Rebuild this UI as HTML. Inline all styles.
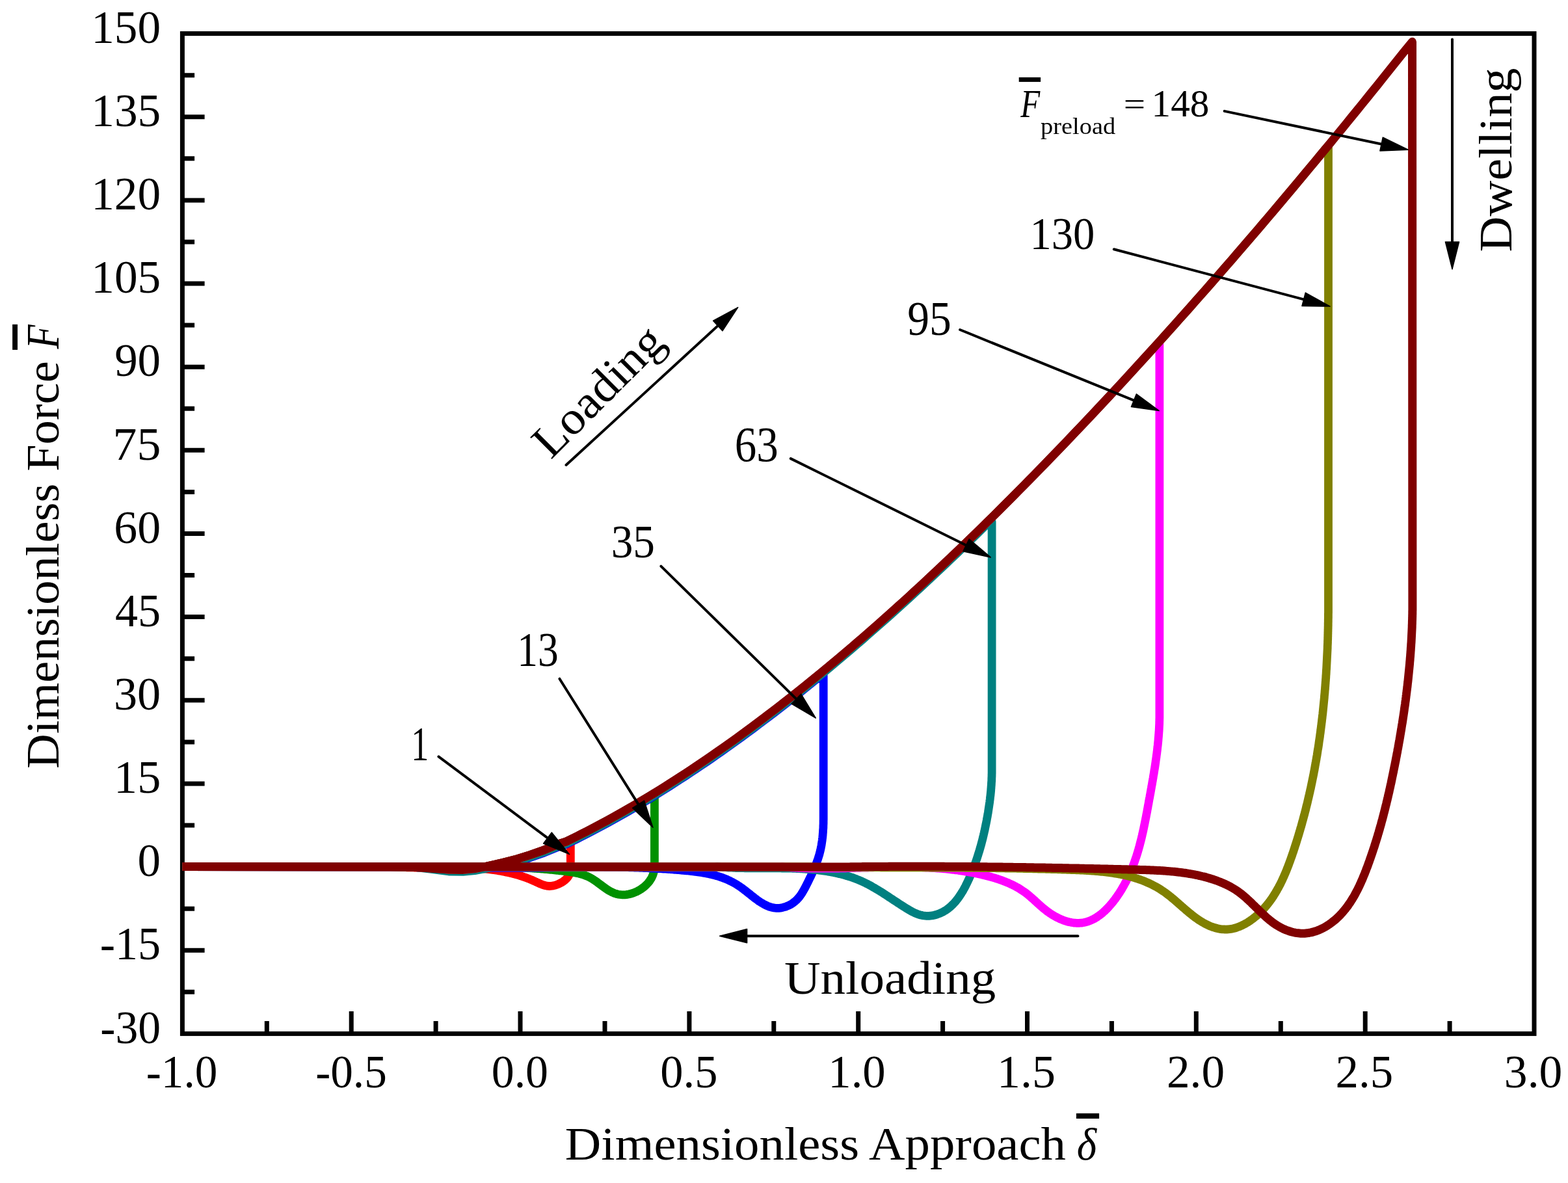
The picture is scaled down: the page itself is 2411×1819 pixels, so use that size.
<!DOCTYPE html>
<html><head><meta charset="utf-8"><title>Dimensionless Force vs Approach</title>
<style>html,body{margin:0;padding:0;background:#fff;}svg{display:block;}</style></head>
<body>
<svg xmlns="http://www.w3.org/2000/svg" width="2411" height="1819" viewBox="0 0 2411 1819">
<rect width="2411" height="1819" fill="#fff"/>
<rect x="280.4" y="51.6" width="2078.6" height="1537.8" fill="none" stroke="#000" stroke-width="7"/>
<path d="M410.3,1589.4 V1569.9 M540.2,1589.4 V1555 M670.1,1589.4 V1569.9 M800,1589.4 V1555 M930,1589.4 V1569.9 M1059.9,1589.4 V1555 M1189.8,1589.4 V1569.9 M1319.7,1589.4 V1555 M1449.6,1589.4 V1569.9 M1579.5,1589.4 V1555 M1709.4,1589.4 V1569.9 M1839.3,1589.4 V1555 M1969.3,1589.4 V1569.9 M2099.2,1589.4 V1555 M2229.1,1589.4 V1569.9 M280.4,1525.3 H299.1 M280.4,1461.2 H314.6 M280.4,1397.2 H299.1 M280.4,1333.1 H314.6 M280.4,1269 H299.1 M280.4,1205 H314.6 M280.4,1140.9 H299.1 M280.4,1076.8 H314.6 M280.4,1012.7 H299.1 M280.4,948.6 H314.6 M280.4,884.6 H299.1 M280.4,820.5 H314.6 M280.4,756.4 H299.1 M280.4,692.3 H314.6 M280.4,628.3 H299.1 M280.4,564.2 H314.6 M280.4,500.1 H299.1 M280.4,436 H314.6 M280.4,372 H299.1 M280.4,307.9 H314.6 M280.4,243.8 H299.1 M280.4,179.8 H314.6 M280.4,115.7 H299.1" stroke="#000" stroke-width="7" fill="none"/>
<g fill="none" stroke-linejoin="round" stroke-linecap="butt">
<path d="M280.4,1332.6 L600,1332.9 L640,1333.6 L665,1335.2 L690,1337 L712,1337.4 L730,1335.6 L747,1332.4 L770,1327.2 L793.6,1321.3 L815,1314.6 L836.7,1307 L858.8,1297.8 L870,1294.3 L877.3,1294.3 L877.3,1306 L877.3,1308 L877.3,1310 L877.3,1312 L877.3,1314.1 L877.3,1316.1 L877.3,1318.1 L877.3,1320.1 L877.3,1322.1 L877.3,1324.1 L877.3,1326.1 L877.3,1328.2 L877.3,1330.2 L877.3,1332.2 L877.3,1334.2 L877.2,1336.2 L877.1,1338.1 L876.8,1340.1 L876.4,1342 L875.8,1343.8 L875,1345.6 L874,1347.3 L872.9,1348.9 L871.6,1350.5 L870.1,1352 L868.5,1353.4 L866.8,1354.7 L865,1356 L863.1,1357.1 L861.1,1358.2 L859.1,1359.1 L857.1,1360 L855,1360.7 L852.9,1361.4 L850.9,1361.9 L848.8,1362.2 L846.8,1362.4 L844.8,1362.5 L842.8,1362.4 L840.9,1362.1 L839,1361.8 L837.1,1361.3 L835.2,1360.7 L833.3,1360 L831.5,1359.3 L829.6,1358.5 L827.8,1357.7 L826,1356.8 L824.1,1356 L822.3,1355.1 L820.5,1354.3 L818.6,1353.5 L816.8,1352.7 L814.9,1352 L813.1,1351.2 L811.2,1350.5 L809.3,1349.8 L807.4,1349.1 L805.6,1348.5 L803.7,1347.8 L801.8,1347.2 L799.9,1346.6 L798,1346 L796.1,1345.4 L794.2,1344.9 L792.2,1344.3 L790.3,1343.8 L788.4,1343.3 L786.5,1342.8 L784.5,1342.4 L782.6,1341.9 L780.7,1341.5 L778.7,1341.1 L776.8,1340.7 L774.8,1340.3 L772.9,1339.9 L770.9,1339.5 L768.9,1339.2 L767,1338.9 L765,1338.5 L763,1338.2 L761.1,1337.9 L759.1,1337.7 L757.1,1337.4 L755.1,1337.1 L753.1,1336.9 L751.1,1336.7 L749.1,1336.5 L747.1,1336.2 L745.1,1336 L743.1,1335.9 L741.1,1335.7 L739.1,1335.5 L737.1,1335.4 L735.1,1335.2 L733.1,1335.1 L731.1,1334.9 L729.1,1334.8 L727.1,1334.7 L725,1334.6 L723,1334.5 L721,1334.4 L719,1334.3 L716.9,1334.3 L714.9,1334.2 L712.9,1334.1 L710.9,1334.1 L708.8,1334 L706.8,1334 L704.8,1334 L702.7,1333.9 L700.7,1333.9 L698.7,1333.9 L696.6,1333.9 L694.6,1333.8 L692.6,1333.8 L690.5,1333.8 L688.5,1333.8 L686.5,1333.8 L684.4,1333.8 L682.4,1333.8 L680.4,1333.8 L678.3,1333.8 L676.3,1333.9 L674.3,1333.9 L672.2,1333.9 L670.2,1333.9 L668.2,1333.9 L666.1,1333.9 L664.1,1333.9 L662.1,1333.9 L660.1,1333.9 L658,1334 L656,1334 L654,1334 L652,1334 L649.9,1334 L647.9,1334 L645.9,1334 L643.9,1334 L641.9,1334 L639.9,1334 L637.8,1334 L635.8,1333.9 L633.8,1333.9 L631.8,1333.9 L629.8,1333.9 L627.8,1333.8 L625.8,1333.8 L623.8,1333.7 L621.8,1333.7 L619.9,1333.6 L617.9,1333.6 L615.9,1333.5 L613.9,1333.4 L611.9,1333.3 L610,1333.2 L608,1333.1 L606,1333 L604.1,1332.9 L602.1,1332.8 L600,1332.9 L280.4,1332.9" stroke="#FF0000" stroke-width="12.8"/>
<path d="M280.4,1332.6 L600,1332.9 L640,1333.6 L665,1335.2 L690,1337 L712,1337.4 L730,1335.6 L747,1332.4 L770,1327.2 L793.6,1321.3 L815,1314.6 L836.7,1307 L858.8,1297.8 L870,1294.3 L878,1290.4 L886,1286.5 L894,1282.4 L902,1278.4 L910,1274.2 L918,1270 L926,1265.7 L934,1261.4 L942,1257 L950,1252.5 L958,1248 L966,1243.4 L974,1238.8 L982,1234 L990,1229.3 L998,1224.5 L1006,1219.6 L1006.4,1222.8 L1006.4,1302 L1006.4,1304 L1006.4,1306 L1006.4,1308 L1006.4,1310 L1006.4,1312.1 L1006.4,1314.1 L1006.4,1316.1 L1006.4,1318.1 L1006.4,1320.1 L1006.4,1322.1 L1006.4,1324.1 L1006.4,1326.1 L1006.4,1328.2 L1006.4,1330.2 L1006.3,1332.2 L1006.2,1334.1 L1006,1336.1 L1005.7,1338.1 L1005.4,1340 L1005,1341.9 L1004.4,1343.8 L1003.8,1345.6 L1003,1347.4 L1002.2,1349.2 L1001.2,1350.9 L1000.2,1352.6 L999.1,1354.3 L997.9,1355.9 L996.6,1357.5 L995.2,1359 L993.8,1360.5 L992.3,1361.9 L990.8,1363.3 L989.2,1364.6 L987.5,1365.8 L985.8,1367 L984,1368.1 L982.2,1369.2 L980.4,1370.2 L978.5,1371.1 L976.6,1371.9 L974.7,1372.7 L972.7,1373.4 L970.7,1374 L968.8,1374.5 L966.8,1375 L964.8,1375.3 L962.8,1375.6 L960.8,1375.8 L958.8,1375.8 L956.8,1375.8 L954.8,1375.7 L952.8,1375.5 L950.9,1375.2 L949,1374.8 L947.1,1374.3 L945.3,1373.7 L943.5,1373 L941.7,1372.2 L939.9,1371.3 L938.1,1370.4 L936.4,1369.3 L934.6,1368.3 L932.9,1367.2 L931.2,1366 L929.5,1364.8 L927.9,1363.6 L926.2,1362.4 L924.5,1361.1 L922.8,1359.9 L921.1,1358.6 L919.4,1357.3 L917.8,1356.1 L916.1,1354.9 L914.3,1353.7 L912.6,1352.6 L910.9,1351.5 L909.1,1350.4 L907.3,1349.5 L905.5,1348.5 L903.7,1347.7 L901.9,1346.9 L900,1346.2 L898.1,1345.5 L896.3,1344.8 L894.3,1344.3 L892.4,1343.7 L890.5,1343.2 L888.5,1342.8 L886.6,1342.4 L884.6,1342 L882.6,1341.6 L880.7,1341.3 L878.7,1341 L876.7,1340.7 L874.7,1340.4 L872.7,1340.2 L870.7,1339.9 L868.7,1339.7 L866.7,1339.4 L864.6,1339.2 L862.6,1339 L860.6,1338.8 L858.6,1338.5 L856.6,1338.3 L854.6,1338.1 L852.6,1337.9 L850.6,1337.7 L848.6,1337.5 L846.6,1337.3 L844.6,1337.1 L842.6,1336.9 L840.6,1336.7 L838.6,1336.6 L836.6,1336.4 L834.6,1336.2 L832.6,1336 L830.6,1335.9 L828.6,1335.7 L826.6,1335.6 L824.6,1335.4 L822.6,1335.3 L820.6,1335.1 L818.6,1335 L816.5,1334.8 L814.5,1334.7 L812.5,1334.6 L810.5,1334.5 L808.5,1334.3 L806.5,1334.2 L804.5,1334.1 L802.5,1334 L800.5,1333.9 L798.5,1333.8 L796.5,1333.7 L794.5,1333.6 L792.5,1333.5 L790.5,1333.4 L788.5,1333.3 L786.5,1333.2 L784.5,1333.2 L782.5,1333.1 L780.5,1333 L778.5,1332.9 L776.4,1332.9 L774.4,1332.8 L772.4,1332.8 L770.4,1332.7 L768.4,1332.7 L766.4,1332.6 L764.4,1332.6 L762.4,1332.5 L760.4,1332.5 L758.4,1332.5 L756.4,1332.4 L754.4,1332.4 L752.4,1332.4 L750.3,1332.4 L748.3,1332.4 L746.3,1332.3 L744.3,1332.3 L742.3,1332.3 L740.3,1332.3 L738.3,1332.3 L736.3,1332.3 L734.3,1332.3 L732.2,1332.3 L730.2,1332.4 L728.2,1332.4 L726.2,1332.4 L724.2,1332.4 L722.2,1332.4 L720.2,1332.5 L718.2,1332.5 L716.1,1332.5 L714.1,1332.6 L712.1,1332.6 L710.1,1332.7 L708.1,1332.7 L706.1,1332.8 L704,1332.8 L702,1332.9 L700,1332.9 L280.4,1332.9" stroke="#009100" stroke-width="12.8"/>
<path d="M280.4,1332.6 L600,1332.9 L640,1333.6 L665,1335.2 L690,1337 L712,1337.4 L730,1335.6 L747,1333 L770,1329.7 L793.6,1325.5 L815,1318.8 L836.7,1311.2 L858.8,1302 L870,1298.5 L878,1294.6 L886,1290.7 L894,1286.6 L902,1282.6 L910,1278.4 L918,1274.2 L926,1269.9 L934,1265.6 L942,1261.2 L950,1256.7 L958,1252.2 L966,1247.6 L974,1243 L982,1238.2 L990,1233.5 L998,1228.7 L1006,1223.8 L1014,1218.9 L1022,1213.9 L1030,1208.8 L1038,1203.7 L1046,1198.5 L1054,1193.3 L1062,1188 L1070,1182.7 L1078,1177.3 L1086,1171.9 L1094,1166.4 L1102,1160.8 L1110,1155.2 L1118,1149.6 L1126,1143.9 L1134,1138.1 L1142,1132.3 L1150,1126.4 L1158,1120.5 L1166,1114.5 L1174,1108.5 L1182,1102.4 L1190,1096.3 L1198,1090.2 L1206,1083.9 L1214,1077.7 L1222,1071.4 L1230,1065 L1238,1058.6 L1246,1052.1 L1254,1045.6 L1262,1039.1 L1266.2,1039.1 L1266.2,1232 L1266.2,1234 L1266.2,1236 L1266.2,1238 L1266.2,1240 L1266.2,1242 L1266.2,1244.1 L1266.2,1246.1 L1266.2,1248.1 L1266.2,1250.1 L1266.2,1252.1 L1266.2,1254.1 L1266.2,1256.1 L1266.2,1258.1 L1266.2,1260.1 L1266.1,1262.1 L1266.1,1264.2 L1266.1,1266.2 L1266,1268.2 L1265.9,1270.2 L1265.9,1272.2 L1265.8,1274.2 L1265.6,1276.2 L1265.5,1278.2 L1265.4,1280.2 L1265.2,1282.2 L1265.1,1284.1 L1264.9,1286.1 L1264.7,1288.1 L1264.4,1290.1 L1264.2,1292.1 L1263.9,1294.1 L1263.6,1296 L1263.3,1298 L1263,1300 L1262.6,1301.9 L1262.2,1303.9 L1261.8,1305.9 L1261.4,1307.8 L1260.9,1309.8 L1260.4,1311.7 L1259.9,1313.7 L1259.3,1315.6 L1258.7,1317.5 L1258.1,1319.5 L1257.5,1321.4 L1256.8,1323.3 L1256.1,1325.2 L1255.4,1327.1 L1254.7,1329 L1253.9,1330.9 L1253.1,1332.8 L1252.3,1334.7 L1251.5,1336.6 L1250.7,1338.5 L1249.9,1340.4 L1249,1342.3 L1248.2,1344.1 L1247.3,1346 L1246.4,1347.9 L1245.5,1349.7 L1244.6,1351.6 L1243.7,1353.4 L1242.8,1355.3 L1241.9,1357.1 L1240.9,1359 L1240,1360.8 L1239.1,1362.6 L1238.1,1364.5 L1237.2,1366.3 L1236.2,1368 L1235.2,1369.8 L1234.2,1371.5 L1233.1,1373.3 L1232.1,1374.9 L1230.9,1376.6 L1229.8,1378.2 L1228.5,1379.7 L1227.3,1381.2 L1225.9,1382.7 L1224.5,1384.1 L1223.1,1385.4 L1221.5,1386.7 L1219.9,1387.9 L1218.3,1389.1 L1216.5,1390.2 L1214.8,1391.2 L1213,1392.1 L1211.1,1392.9 L1209.2,1393.7 L1207.3,1394.4 L1205.4,1394.9 L1203.4,1395.4 L1201.5,1395.8 L1199.5,1396.1 L1197.6,1396.3 L1195.7,1396.4 L1193.8,1396.3 L1191.9,1396.2 L1190.1,1396 L1188.3,1395.6 L1186.4,1395.2 L1184.6,1394.7 L1182.9,1394.1 L1181.1,1393.5 L1179.3,1392.7 L1177.6,1391.9 L1175.9,1391 L1174.1,1390.1 L1172.4,1389.1 L1170.7,1388.1 L1169,1387 L1167.3,1385.9 L1165.6,1384.7 L1164,1383.5 L1162.3,1382.2 L1160.6,1381 L1159,1379.7 L1157.3,1378.4 L1155.6,1377.1 L1154,1375.7 L1152.3,1374.4 L1150.6,1373.1 L1148.9,1371.7 L1147.3,1370.4 L1145.6,1369.1 L1143.9,1367.8 L1142.2,1366.5 L1140.5,1365.3 L1138.8,1364 L1137.1,1362.9 L1135.3,1361.7 L1133.6,1360.6 L1131.9,1359.5 L1130.1,1358.5 L1128.3,1357.5 L1126.5,1356.5 L1124.7,1355.6 L1122.9,1354.7 L1121.1,1353.8 L1119.3,1353 L1117.5,1352.2 L1115.6,1351.4 L1113.8,1350.7 L1111.9,1350 L1110.1,1349.3 L1108.2,1348.7 L1106.3,1348 L1104.4,1347.4 L1102.5,1346.9 L1100.6,1346.3 L1098.7,1345.8 L1096.8,1345.3 L1094.9,1344.9 L1093,1344.4 L1091,1344 L1089.1,1343.6 L1087.2,1343.2 L1085.2,1342.8 L1083.3,1342.4 L1081.3,1342.1 L1079.4,1341.8 L1077.4,1341.5 L1075.4,1341.2 L1073.5,1340.9 L1071.5,1340.6 L1069.5,1340.4 L1067.6,1340.1 L1065.6,1339.9 L1063.6,1339.7 L1061.6,1339.4 L1059.6,1339.2 L1057.6,1339 L1055.7,1338.8 L1053.7,1338.6 L1051.7,1338.5 L1049.7,1338.3 L1047.7,1338.1 L1045.7,1337.9 L1043.7,1337.7 L1041.7,1337.6 L1039.7,1337.4 L1037.7,1337.3 L1035.7,1337.1 L1033.8,1336.9 L1031.8,1336.8 L1029.8,1336.7 L1027.8,1336.5 L1025.8,1336.4 L1023.8,1336.2 L1021.8,1336.1 L1019.8,1336 L1017.8,1335.9 L1015.8,1335.7 L1013.8,1335.6 L1011.8,1335.5 L1009.8,1335.4 L1007.8,1335.3 L1005.8,1335.2 L1003.8,1335.1 L1001.8,1335 L999.8,1334.9 L997.8,1334.8 L995.8,1334.7 L993.8,1334.6 L991.8,1334.6 L989.8,1334.5 L987.8,1334.4 L985.8,1334.3 L983.8,1334.3 L981.7,1334.2 L979.7,1334.1 L977.7,1334.1 L975.7,1334 L973.7,1333.9 L971.7,1333.9 L969.7,1333.8 L967.7,1333.8 L965.7,1333.7 L963.7,1333.7 L961.7,1333.6 L959.7,1333.6 L957.6,1333.6 L955.6,1333.5 L953.6,1333.5 L951.6,1333.5 L949.6,1333.4 L947.6,1333.4 L945.6,1333.4 L943.6,1333.4 L941.6,1333.3 L939.5,1333.3 L937.5,1333.3 L935.5,1333.3 L933.5,1333.3 L931.5,1333.3 L929.5,1333.3 L927.5,1333.2 L925.5,1333.2 L923.4,1333.2 L921.4,1333.2 L919.4,1333.2 L917.4,1333.2 L915.4,1333.2 L913.4,1333.2 L911.3,1333.2 L909.3,1333.2 L907.3,1333.2 L905.3,1333.2 L903.3,1333.3 L901.3,1333.3 L899.3,1333.3 L897.2,1333.3 L895.2,1333.3 L893.2,1333.3 L891.2,1333.3 L889.2,1333.3 L887.2,1333.4 L885.1,1333.4 L883.1,1333.4 L881.1,1333.4 L879.1,1333.4 L877.1,1333.5 L875.1,1333.5 L873,1333.5 L871,1333.5 L869,1333.5 L867,1333.6 L865,1333.6 L862.9,1333.6 L860.9,1333.6 L858.9,1333.7 L856.9,1333.7 L854.9,1333.7 L852.9,1333.7 L850.8,1333.8 L848.8,1333.8 L846.8,1333.8 L844.8,1333.8 L842.8,1333.9 L840.8,1333.9 L838.7,1333.9 L836.7,1333.9 L834.7,1334 L832.7,1334 L830.7,1334 L828.7,1334 L826.6,1334.1 L824.6,1334.1 L822.6,1334.1 L820.6,1334.1 L818.6,1334.2 L816.6,1334.2 L814.5,1334.2 L812.5,1334.2 L810.5,1334.2 L808.5,1334.3 L806.5,1334.3 L804.5,1334.3 L802.5,1334.3 L800.4,1334.3 L798.4,1334.3 L796.4,1334.4 L794.4,1334.4 L792.4,1334.4 L790.4,1334.4 L788.4,1334.4 L786.3,1334.4 L784.3,1334.4 L782.3,1334.4 L780.3,1334.4 L778.3,1334.4 L776.3,1334.4 L774.3,1334.4 L772.3,1334.4 L770.3,1334.4 L768.2,1334.4 L766.2,1334.4 L764.2,1334.4 L762.2,1334.4 L760.2,1334.4 L758.2,1334.4 L756.2,1334.4 L754.2,1334.4 L752.2,1334.4 L750.2,1334.3 L748.2,1334.3 L746.1,1334.3 L744.1,1334.3 L742.1,1334.2 L740.1,1334.2 L738.1,1334.2 L736.1,1334.2 L734.1,1334.1 L732.1,1334.1 L730.1,1334 L728.1,1334 L726.1,1334 L724.1,1333.9 L722.1,1333.9 L720.1,1333.8 L718.1,1333.8 L716.1,1333.7 L714.1,1333.6 L712.1,1333.6 L710.1,1333.5 L708.1,1333.5 L706.1,1333.4 L704.1,1333.3 L702.1,1333.2 L700.1,1333.2 L698.1,1333.1 L696.1,1333 L694.1,1332.9 L692.1,1332.8 L690.1,1332.7 L688.1,1332.6 L686.1,1332.5 L684.1,1332.4 L682.2,1332.3 L680,1332.9 L280.4,1332.9" stroke="#0000FF" stroke-width="12.8"/>
<path d="M280.4,1332.6 L600,1332.9 L640,1333.6 L665,1336.7 L690,1340 L712,1340.4 L730,1338.6 L747,1335.4 L770,1330.2 L793.6,1324.3 L815,1317.6 L836.7,1310 L858.8,1300.8 L870,1297.3 L878,1293.4 L886,1289.5 L894,1285.4 L902,1281.4 L910,1277.2 L918,1273 L926,1268.7 L934,1264.4 L942,1260 L950,1255.5 L958,1251 L966,1246.4 L974,1241.8 L982,1237 L990,1232.3 L998,1227.5 L1006,1222.6 L1014,1217.7 L1022,1212.7 L1030,1207.6 L1038,1202.5 L1046,1197.3 L1054,1192.1 L1062,1186.8 L1070,1181.5 L1078,1176.1 L1086,1170.7 L1094,1165.2 L1102,1159.6 L1110,1154 L1118,1148.4 L1126,1142.7 L1134,1136.9 L1142,1131.1 L1150,1125.2 L1158,1119.3 L1166,1113.3 L1174,1107.3 L1182,1101.2 L1190,1095.1 L1198,1089 L1206,1082.7 L1214,1076.5 L1222,1070.2 L1230,1063.8 L1238,1057.4 L1246,1050.9 L1254,1044.4 L1262,1037.9 L1270,1031.3 L1278,1024.6 L1286,1017.9 L1294,1011.2 L1302,1004.4 L1310,997.6 L1318,990.7 L1326,983.8 L1334,976.8 L1342,969.8 L1350,962.8 L1358,955.7 L1366,948.6 L1374,941.4 L1382,934.2 L1390,927 L1398,919.7 L1406,912.3 L1414,905 L1422,897.6 L1430,890.1 L1438,882.6 L1446,875.1 L1454,867.5 L1462,859.9 L1470,852.3 L1478,844.6 L1486,836.9 L1494,829.1 L1502,821.4 L1510,813.5 L1518,805.7 L1525.1,802.2 L1525.1,1161 L1525.1,1163 L1525.1,1165 L1525.1,1167 L1525.1,1169 L1525.1,1171.1 L1525.1,1173.1 L1525.1,1175.1 L1525.1,1177.1 L1525.1,1179.1 L1525.1,1181.1 L1525.1,1183.1 L1525.1,1185.1 L1525.1,1187.1 L1525.1,1189.1 L1525,1191.2 L1525,1193.2 L1524.9,1195.2 L1524.8,1197.2 L1524.8,1199.2 L1524.7,1201.2 L1524.5,1203.2 L1524.4,1205.3 L1524.3,1207.3 L1524.1,1209.3 L1524,1211.3 L1523.8,1213.3 L1523.7,1215.3 L1523.5,1217.4 L1523.3,1219.4 L1523.1,1221.4 L1522.9,1223.4 L1522.6,1225.4 L1522.4,1227.4 L1522.2,1229.4 L1521.9,1231.4 L1521.7,1233.4 L1521.4,1235.4 L1521.1,1237.4 L1520.8,1239.4 L1520.5,1241.4 L1520.2,1243.4 L1519.9,1245.4 L1519.6,1247.4 L1519.3,1249.4 L1518.9,1251.4 L1518.6,1253.4 L1518.3,1255.3 L1517.9,1257.3 L1517.5,1259.3 L1517.2,1261.3 L1516.8,1263.2 L1516.4,1265.2 L1516,1267.1 L1515.6,1269.1 L1515.2,1271.1 L1514.8,1273 L1514.4,1274.9 L1514,1276.9 L1513.5,1278.8 L1513.1,1280.8 L1512.6,1282.7 L1512.2,1284.6 L1511.7,1286.5 L1511.3,1288.5 L1510.8,1290.4 L1510.3,1292.3 L1509.8,1294.2 L1509.3,1296.1 L1508.8,1298 L1508.3,1300 L1507.7,1301.9 L1507.2,1303.8 L1506.6,1305.7 L1506.1,1307.6 L1505.5,1309.5 L1504.9,1311.4 L1504.3,1313.3 L1503.7,1315.2 L1503.1,1317.1 L1502.5,1319 L1501.9,1320.9 L1501.2,1322.7 L1500.6,1324.6 L1499.9,1326.5 L1499.2,1328.4 L1498.5,1330.3 L1497.8,1332.2 L1497.1,1334.1 L1496.3,1336 L1495.6,1337.9 L1494.8,1339.8 L1494.1,1341.7 L1493.3,1343.6 L1492.5,1345.5 L1491.6,1347.4 L1490.8,1349.3 L1490,1351.2 L1489.1,1353.1 L1488.2,1355 L1487.3,1356.8 L1486.4,1358.7 L1485.5,1360.6 L1484.6,1362.5 L1483.6,1364.3 L1482.6,1366.2 L1481.6,1368 L1480.6,1369.8 L1479.5,1371.6 L1478.4,1373.3 L1477.3,1375.1 L1476.2,1376.8 L1475,1378.5 L1473.9,1380.1 L1472.7,1381.8 L1471.4,1383.4 L1470.2,1385 L1468.9,1386.5 L1467.6,1388 L1466.2,1389.5 L1464.8,1390.9 L1463.4,1392.3 L1462,1393.6 L1460.5,1394.9 L1459,1396.1 L1457.4,1397.3 L1455.9,1398.5 L1454.2,1399.6 L1452.6,1400.6 L1450.9,1401.6 L1449.2,1402.5 L1447.4,1403.4 L1445.6,1404.2 L1443.8,1404.9 L1441.9,1405.6 L1440.1,1406.2 L1438.2,1406.7 L1436.3,1407.2 L1434.3,1407.6 L1432.4,1407.9 L1430.5,1408.1 L1428.5,1408.3 L1426.6,1408.3 L1424.7,1408.3 L1422.7,1408.2 L1420.8,1408 L1418.9,1407.7 L1417.1,1407.3 L1415.2,1406.9 L1413.3,1406.3 L1411.5,1405.7 L1409.6,1405 L1407.8,1404.3 L1406,1403.5 L1404.2,1402.6 L1402.4,1401.7 L1400.6,1400.8 L1398.9,1399.8 L1397.1,1398.7 L1395.3,1397.7 L1393.6,1396.6 L1391.8,1395.5 L1390.1,1394.4 L1388.4,1393.3 L1386.6,1392.2 L1384.9,1391.1 L1383.2,1390 L1381.5,1388.9 L1379.8,1387.7 L1378.1,1386.6 L1376.4,1385.5 L1374.6,1384.4 L1372.9,1383.2 L1371.2,1382.1 L1369.5,1381 L1367.8,1379.9 L1366.1,1378.7 L1364.4,1377.6 L1362.7,1376.5 L1361,1375.4 L1359.3,1374.3 L1357.6,1373.2 L1355.9,1372.1 L1354.2,1371.1 L1352.5,1370 L1350.8,1369 L1349.1,1367.9 L1347.4,1366.9 L1345.7,1365.9 L1343.9,1364.9 L1342.2,1363.9 L1340.5,1362.9 L1338.7,1361.9 L1337,1361 L1335.2,1360.1 L1333.5,1359.1 L1331.7,1358.3 L1329.9,1357.4 L1328.1,1356.5 L1326.4,1355.7 L1324.6,1354.9 L1322.8,1354.1 L1320.9,1353.3 L1319.1,1352.6 L1317.3,1351.9 L1315.5,1351.1 L1313.6,1350.5 L1311.8,1349.8 L1309.9,1349.1 L1308,1348.5 L1306.2,1347.9 L1304.3,1347.3 L1302.4,1346.7 L1300.5,1346.2 L1298.6,1345.6 L1296.7,1345.1 L1294.8,1344.6 L1292.9,1344.1 L1291,1343.7 L1289,1343.2 L1287.1,1342.8 L1285.2,1342.3 L1283.2,1341.9 L1281.3,1341.5 L1279.3,1341.2 L1277.4,1340.8 L1275.4,1340.4 L1273.4,1340.1 L1271.5,1339.8 L1269.5,1339.5 L1267.5,1339.2 L1265.5,1338.9 L1263.5,1338.6 L1261.5,1338.4 L1259.5,1338.1 L1257.5,1337.9 L1255.5,1337.7 L1253.5,1337.5 L1251.5,1337.3 L1249.5,1337.1 L1247.5,1336.9 L1245.4,1336.7 L1243.4,1336.6 L1241.4,1336.4 L1239.3,1336.3 L1237.3,1336.1 L1235.3,1336 L1233.2,1335.9 L1231.2,1335.8 L1229.2,1335.7 L1227.1,1335.6 L1225.1,1335.5 L1223,1335.4 L1221,1335.4 L1218.9,1335.3 L1216.9,1335.2 L1214.8,1335.2 L1212.8,1335.1 L1210.7,1335.1 L1208.7,1335 L1206.6,1335 L1204.6,1335 L1202.5,1335 L1200.4,1334.9 L1198.4,1334.9 L1196.3,1334.9 L1194.3,1334.9 L1192.2,1334.9 L1190.2,1334.9 L1188.1,1334.9 L1186.1,1334.9 L1184,1334.9 L1182,1334.9 L1179.9,1334.9 L1177.9,1334.9 L1175.8,1334.9 L1173.8,1334.9 L1171.7,1334.9 L1169.7,1334.9 L1167.7,1334.9 L1165.6,1334.9 L1163.6,1334.9 L1161.6,1334.9 L1159.5,1334.9 L1157.5,1334.9 L1155.5,1334.9 L1153.5,1334.8 L1151.4,1334.8 L1149.4,1334.8 L1147.4,1334.8 L1145.4,1334.8 L1143.4,1334.7 L1141.4,1334.7 L1139.4,1334.7 L1137.4,1334.6 L1135.4,1334.6 L1133.4,1334.5 L1131.4,1334.5 L1129.5,1334.4 L1127.5,1334.3 L1125.5,1334.2 L1123.5,1334.2 L1121.6,1334.1 L1119.6,1334 L1117.7,1333.9 L1115.7,1333.7 L1113.8,1333.6 L1111.9,1333.5 L1109.9,1333.3 L1108,1333.2 L1106.1,1333 L1104.2,1332.9 L1102.3,1332.7 L1100,1333.1 L280.4,1332.9" stroke="#008080" stroke-width="12.8"/>
<path d="M280.4,1332.6 L600,1332.9 L640,1333.6 L665,1335.2 L690,1337 L712,1337.4 L730,1335.6 L747,1332.4 L770,1327.2 L793.6,1321.3 L815,1314.6 L836.7,1307 L858.8,1297.8 L870,1294.3 L878,1290.4 L886,1286.5 L894,1282.4 L902,1278.4 L910,1274.2 L918,1270 L926,1265.7 L934,1261.4 L942,1257 L950,1252.5 L958,1248 L966,1243.4 L974,1238.8 L982,1234 L990,1229.3 L998,1224.5 L1006,1219.6 L1014,1214.7 L1022,1209.7 L1030,1204.6 L1038,1199.5 L1046,1194.3 L1054,1189.1 L1062,1183.8 L1070,1178.5 L1078,1173.1 L1086,1167.7 L1094,1162.2 L1102,1156.6 L1110,1151 L1118,1145.4 L1126,1139.7 L1134,1133.9 L1142,1128.1 L1150,1122.2 L1158,1116.3 L1166,1110.3 L1174,1104.3 L1182,1098.2 L1190,1092.1 L1198,1086 L1206,1079.7 L1214,1073.5 L1222,1067.2 L1230,1060.8 L1238,1054.4 L1246,1047.9 L1254,1041.4 L1262,1034.9 L1270,1028.3 L1278,1021.6 L1286,1014.9 L1294,1008.2 L1302,1001.4 L1310,994.6 L1318,987.7 L1326,980.8 L1334,973.8 L1342,966.8 L1350,959.8 L1358,952.7 L1366,945.6 L1374,938.4 L1382,931.2 L1390,924 L1398,916.7 L1406,909.3 L1414,902 L1422,894.6 L1430,887.1 L1438,879.6 L1446,872.1 L1454,864.5 L1462,856.9 L1470,849.3 L1478,841.6 L1486,833.9 L1494,826.1 L1502,818.4 L1510,810.5 L1518,802.7 L1526,794.8 L1534,786.9 L1542,778.9 L1550,770.9 L1558,762.9 L1566,754.8 L1574,746.7 L1582,738.6 L1590,730.5 L1598,722.3 L1606,714.1 L1614,705.8 L1622,697.5 L1630,689.2 L1638,680.9 L1646,672.5 L1654,664.1 L1662,655.7 L1670,647.3 L1678,638.8 L1686,630.3 L1694,621.7 L1702,613.2 L1710,604.6 L1718,596 L1726,587.3 L1734,578.6 L1742,569.9 L1750,561.2 L1758,552.4 L1766,543.6 L1774,534.8 L1782,526 L1782.9,528.5 L1782.9,1074 L1782.9,1076 L1782.9,1078 L1782.9,1080 L1782.9,1082 L1782.9,1084 L1782.9,1086.1 L1782.9,1088.1 L1782.9,1090.1 L1782.9,1092.1 L1782.9,1094.1 L1782.9,1096.1 L1782.9,1098.1 L1782.9,1100.1 L1782.9,1102.1 L1782.9,1104.1 L1782.8,1106.1 L1782.8,1108.1 L1782.7,1110.2 L1782.7,1112.2 L1782.6,1114.2 L1782.5,1116.2 L1782.4,1118.2 L1782.3,1120.2 L1782.2,1122.2 L1782.1,1124.2 L1781.9,1126.2 L1781.8,1128.2 L1781.6,1130.2 L1781.5,1132.2 L1781.3,1134.2 L1781.1,1136.2 L1781,1138.2 L1780.8,1140.2 L1780.6,1142.2 L1780.4,1144.2 L1780.2,1146.2 L1779.9,1148.2 L1779.7,1150.1 L1779.5,1152.1 L1779.3,1154.1 L1779,1156.1 L1778.8,1158.1 L1778.5,1160.1 L1778.2,1162.1 L1778,1164.1 L1777.7,1166.1 L1777.4,1168.1 L1777.1,1170.1 L1776.9,1172.1 L1776.6,1174 L1776.3,1176 L1776,1178 L1775.7,1180 L1775.4,1182 L1775,1184 L1774.7,1186 L1774.4,1188 L1774.1,1189.9 L1773.7,1191.9 L1773.4,1193.9 L1773.1,1195.9 L1772.7,1197.9 L1772.4,1199.9 L1772,1201.9 L1771.7,1203.8 L1771.4,1205.8 L1771,1207.8 L1770.6,1209.8 L1770.3,1211.8 L1769.9,1213.8 L1769.6,1215.7 L1769.2,1217.7 L1768.9,1219.7 L1768.5,1221.7 L1768.1,1223.7 L1767.8,1225.7 L1767.4,1227.6 L1767,1229.6 L1766.7,1231.6 L1766.3,1233.6 L1766,1235.6 L1765.6,1237.5 L1765.2,1239.5 L1764.9,1241.5 L1764.5,1243.5 L1764.1,1245.5 L1763.8,1247.4 L1763.4,1249.4 L1763,1251.4 L1762.6,1253.4 L1762.3,1255.3 L1761.9,1257.3 L1761.5,1259.3 L1761.1,1261.3 L1760.7,1263.2 L1760.3,1265.2 L1759.9,1267.2 L1759.5,1269.1 L1759.1,1271.1 L1758.7,1273.1 L1758.3,1275 L1757.9,1277 L1757.4,1278.9 L1757,1280.9 L1756.5,1282.8 L1756.1,1284.8 L1755.6,1286.7 L1755.2,1288.7 L1754.7,1290.6 L1754.2,1292.6 L1753.7,1294.5 L1753.2,1296.4 L1752.7,1298.4 L1752.2,1300.3 L1751.7,1302.2 L1751.1,1304.1 L1750.6,1306.1 L1750,1308 L1749.5,1309.9 L1748.9,1311.8 L1748.3,1313.7 L1747.7,1315.6 L1747.1,1317.5 L1746.4,1319.4 L1745.8,1321.3 L1745.1,1323.2 L1744.5,1325.1 L1743.8,1327 L1743.1,1328.8 L1742.4,1330.7 L1741.7,1332.6 L1740.9,1334.4 L1740.2,1336.3 L1739.4,1338.1 L1738.6,1340 L1737.8,1341.8 L1737,1343.7 L1736.2,1345.5 L1735.4,1347.3 L1734.5,1349.2 L1733.6,1351 L1732.7,1352.8 L1731.8,1354.6 L1730.9,1356.4 L1729.9,1358.2 L1728.9,1360 L1727.9,1361.8 L1726.9,1363.6 L1725.9,1365.3 L1724.9,1367.1 L1723.8,1368.9 L1722.7,1370.6 L1721.6,1372.4 L1720.5,1374.1 L1719.3,1375.8 L1718.1,1377.6 L1716.9,1379.3 L1715.7,1381 L1714.5,1382.7 L1713.2,1384.3 L1711.9,1386 L1710.7,1387.6 L1709.3,1389.2 L1708,1390.8 L1706.6,1392.4 L1705.3,1393.9 L1703.9,1395.4 L1702.5,1396.9 L1701,1398.4 L1699.6,1399.8 L1698.1,1401.2 L1696.6,1402.5 L1695.1,1403.8 L1693.6,1405.1 L1692,1406.3 L1690.5,1407.5 L1688.9,1408.6 L1687.3,1409.7 L1685.7,1410.7 L1684,1411.7 L1682.4,1412.7 L1680.7,1413.5 L1679,1414.4 L1677.3,1415.1 L1675.6,1415.8 L1673.8,1416.5 L1672.1,1417.1 L1670.3,1417.6 L1668.5,1418.1 L1666.7,1418.5 L1664.9,1418.8 L1663.1,1419.1 L1661.2,1419.2 L1659.3,1419.3 L1657.4,1419.4 L1655.5,1419.3 L1653.6,1419.2 L1651.7,1419.1 L1649.8,1418.8 L1647.8,1418.5 L1645.9,1418.1 L1644,1417.7 L1642,1417.2 L1640.1,1416.7 L1638.1,1416.1 L1636.2,1415.4 L1634.2,1414.7 L1632.3,1413.9 L1630.4,1413.1 L1628.5,1412.2 L1626.6,1411.3 L1624.7,1410.4 L1622.9,1409.4 L1621,1408.4 L1619.2,1407.3 L1617.4,1406.2 L1615.6,1405 L1613.8,1403.8 L1612.1,1402.6 L1610.4,1401.4 L1608.7,1400.1 L1607.1,1398.8 L1605.5,1397.5 L1603.9,1396.2 L1602.3,1394.9 L1600.7,1393.5 L1599.2,1392.1 L1597.6,1390.7 L1596.1,1389.4 L1594.6,1388 L1593.1,1386.6 L1591.6,1385.2 L1590.1,1383.8 L1588.6,1382.5 L1587,1381.1 L1585.5,1379.8 L1584,1378.5 L1582.5,1377.2 L1580.9,1375.9 L1579.4,1374.6 L1577.8,1373.4 L1576.2,1372.2 L1574.6,1371.1 L1572.9,1370 L1571.3,1368.9 L1569.6,1367.8 L1567.9,1366.7 L1566.3,1365.7 L1564.5,1364.7 L1562.8,1363.8 L1561.1,1362.8 L1559.3,1361.9 L1557.6,1361 L1555.8,1360.1 L1554,1359.3 L1552.2,1358.5 L1550.4,1357.7 L1548.6,1356.9 L1546.7,1356.2 L1544.9,1355.4 L1543,1354.7 L1541.2,1354 L1539.3,1353.3 L1537.4,1352.7 L1535.5,1352 L1533.7,1351.4 L1531.8,1350.8 L1529.8,1350.2 L1527.9,1349.6 L1526,1349.1 L1524.1,1348.5 L1522.2,1348 L1520.2,1347.5 L1518.3,1347 L1516.4,1346.5 L1514.4,1346 L1512.5,1345.5 L1510.5,1345.1 L1508.6,1344.6 L1506.7,1344.2 L1504.7,1343.8 L1502.8,1343.3 L1500.8,1342.9 L1498.8,1342.5 L1496.9,1342.2 L1494.9,1341.8 L1493,1341.4 L1491,1341.1 L1489,1340.7 L1487.1,1340.4 L1485.1,1340.1 L1483.1,1339.7 L1481.2,1339.4 L1479.2,1339.1 L1477.2,1338.8 L1475.2,1338.6 L1473.3,1338.3 L1471.3,1338 L1469.3,1337.8 L1467.3,1337.5 L1465.3,1337.3 L1463.4,1337.1 L1461.4,1336.8 L1459.4,1336.6 L1457.4,1336.4 L1455.4,1336.2 L1453.4,1336 L1451.4,1335.8 L1449.4,1335.7 L1447.4,1335.5 L1445.4,1335.3 L1443.4,1335.2 L1441.4,1335 L1439.4,1334.9 L1437.4,1334.7 L1435.4,1334.6 L1433.4,1334.5 L1431.4,1334.4 L1429.4,1334.3 L1427.4,1334.2 L1425.4,1334.1 L1423.4,1334 L1421.4,1333.9 L1419.4,1333.8 L1417.4,1333.7 L1415.3,1333.7 L1413.3,1333.6 L1411.3,1333.5 L1409.3,1333.5 L1407.3,1333.4 L1405.3,1333.4 L1403.2,1333.4 L1401.2,1333.3 L1399.2,1333.3 L1397.2,1333.3 L1395.2,1333.2 L1393.2,1333.2 L1391.1,1333.2 L1389.1,1333.2 L1387.1,1333.2 L1385.1,1333.2 L1383,1333.2 L1381,1333.2 L1379,1333.2 L1377,1333.2 L1374.9,1333.2 L1372.9,1333.2 L1370.9,1333.3 L1368.9,1333.3 L1366.8,1333.3 L1364.8,1333.3 L1362.8,1333.4 L1360.8,1333.4 L1358.7,1333.4 L1356.7,1333.5 L1354.7,1333.5 L1352.7,1333.5 L1350.6,1333.6 L1348.6,1333.6 L1346.6,1333.7 L1344.5,1333.7 L1342.5,1333.8 L1340.5,1333.8 L1338.5,1333.9 L1336.4,1333.9 L1334.4,1334 L1332.4,1334 L1330.4,1334.1 L1328.3,1334.1 L1326.3,1334.2 L1324.3,1334.2 L1322.3,1334.3 L1320.2,1334.3 L1318.2,1334.4 L1316.2,1334.4 L1314.1,1334.5 L1312.1,1334.5 L1310.1,1334.6 L1308.1,1334.6 L1306.1,1334.7 L1304,1334.7 L1302,1334.7 L1300,1334.8 L1298,1334.8 L1295.9,1334.9 L1293.9,1334.9 L1291.9,1334.9 L1289.9,1335 L1287.9,1335 L1285.9,1335 L1283.8,1335.1 L1281.8,1335.1 L1279.8,1335.1 L1277.8,1335.1 L1275.8,1335.2 L1273.8,1335.2 L1271.8,1335.2 L1269.8,1335.2 L1267.7,1335.2 L1265.7,1335.2 L1263.7,1335.2 L1261.7,1335.2 L1259.7,1335.2 L1257.7,1335.2 L1255.7,1335.2 L1253.7,1335.1 L1251.7,1335.1 L1249.7,1335.1 L1247.7,1335.1 L1245.7,1335 L1243.7,1335 L1241.7,1334.9 L1239.7,1334.9 L1237.7,1334.8 L1235.7,1334.8 L1233.7,1334.7 L1231.8,1334.6 L1229.8,1334.6 L1227.8,1334.5 L1225.8,1334.4 L1223.8,1334.3 L1221.8,1334.2 L1219.9,1334.1 L1217.9,1334 L1215.9,1333.9 L1213.9,1333.7 L1211.9,1333.6 L1210,1333.5 L1208,1333.3 L1206,1333.2 L1204.1,1333 L1202.1,1332.9 L1200,1333.1 L280.4,1332.9" stroke="#FF00FF" stroke-width="12.8"/>
<path d="M280.4,1332.6 L600,1332.9 L640,1333.6 L665,1335.2 L690,1337 L712,1337.4 L730,1335.6 L747,1332.4 L770,1327.2 L793.6,1321.3 L815,1314.6 L836.7,1307 L858.8,1297.8 L870,1294.3 L878,1290.4 L886,1286.5 L894,1282.4 L902,1278.4 L910,1274.2 L918,1270 L926,1265.7 L934,1261.4 L942,1257 L950,1252.5 L958,1248 L966,1243.4 L974,1238.8 L982,1234 L990,1229.3 L998,1224.5 L1006,1219.6 L1014,1214.7 L1022,1209.7 L1030,1204.6 L1038,1199.5 L1046,1194.3 L1054,1189.1 L1062,1183.8 L1070,1178.5 L1078,1173.1 L1086,1167.7 L1094,1162.2 L1102,1156.6 L1110,1151 L1118,1145.4 L1126,1139.7 L1134,1133.9 L1142,1128.1 L1150,1122.2 L1158,1116.3 L1166,1110.3 L1174,1104.3 L1182,1098.2 L1190,1092.1 L1198,1086 L1206,1079.7 L1214,1073.5 L1222,1067.2 L1230,1060.8 L1238,1054.4 L1246,1047.9 L1254,1041.4 L1262,1034.9 L1270,1028.3 L1278,1021.6 L1286,1014.9 L1294,1008.2 L1302,1001.4 L1310,994.6 L1318,987.7 L1326,980.8 L1334,973.8 L1342,966.8 L1350,959.8 L1358,952.7 L1366,945.6 L1374,938.4 L1382,931.2 L1390,924 L1398,916.7 L1406,909.3 L1414,902 L1422,894.6 L1430,887.1 L1438,879.6 L1446,872.1 L1454,864.5 L1462,856.9 L1470,849.3 L1478,841.6 L1486,833.9 L1494,826.1 L1502,818.4 L1510,810.5 L1518,802.7 L1526,794.8 L1534,786.9 L1542,778.9 L1550,770.9 L1558,762.9 L1566,754.8 L1574,746.7 L1582,738.6 L1590,730.5 L1598,722.3 L1606,714.1 L1614,705.8 L1622,697.5 L1630,689.2 L1638,680.9 L1646,672.5 L1654,664.1 L1662,655.7 L1670,647.3 L1678,638.8 L1686,630.3 L1694,621.7 L1702,613.2 L1710,604.6 L1718,596 L1726,587.3 L1734,578.6 L1742,569.9 L1750,561.2 L1758,552.4 L1766,543.6 L1774,534.8 L1782,526 L1790,517.1 L1798,508.2 L1806,499.3 L1814,490.3 L1822,481.4 L1830,472.4 L1838,463.3 L1846,454.3 L1854,445.2 L1862,436.1 L1870,426.9 L1878,417.8 L1886,408.6 L1894,399.4 L1902,390.1 L1910,380.8 L1918,371.5 L1926,362.2 L1934,352.9 L1942,343.5 L1950,334.1 L1958,324.7 L1966,315.2 L1974,305.7 L1982,296.2 L1990,286.7 L1998,277.1 L2006,267.5 L2014,257.9 L2022,248.3 L2030,238.6 L2038,229 L2042.5,227 L2042.5,910 L2042.5,912 L2042.5,914 L2042.5,916 L2042.5,918 L2042.5,920 L2042.5,922 L2042.5,924 L2042.5,926 L2042.5,928 L2042.5,930 L2042.5,932.1 L2042.5,934.1 L2042.5,936.1 L2042.5,938.1 L2042.5,940.1 L2042.5,942.1 L2042.4,944.1 L2042.4,946.1 L2042.4,948.1 L2042.4,950.1 L2042.3,952.1 L2042.3,954.1 L2042.3,956.1 L2042.2,958.2 L2042.2,960.2 L2042.2,962.2 L2042.1,964.2 L2042.1,966.2 L2042,968.2 L2042,970.2 L2041.9,972.2 L2041.9,974.2 L2041.8,976.3 L2041.8,978.3 L2041.7,980.3 L2041.7,982.3 L2041.6,984.3 L2041.5,986.3 L2041.5,988.3 L2041.4,990.3 L2041.3,992.3 L2041.2,994.4 L2041.2,996.4 L2041.1,998.4 L2041,1000.4 L2040.9,1002.4 L2040.8,1004.4 L2040.7,1006.4 L2040.6,1008.4 L2040.5,1010.4 L2040.4,1012.4 L2040.3,1014.5 L2040.2,1016.5 L2040.1,1018.5 L2040,1020.5 L2039.9,1022.5 L2039.8,1024.5 L2039.7,1026.5 L2039.6,1028.5 L2039.4,1030.5 L2039.3,1032.5 L2039.2,1034.5 L2039.1,1036.6 L2038.9,1038.6 L2038.8,1040.6 L2038.7,1042.6 L2038.5,1044.6 L2038.4,1046.6 L2038.2,1048.6 L2038.1,1050.6 L2037.9,1052.6 L2037.8,1054.6 L2037.6,1056.6 L2037.5,1058.6 L2037.3,1060.6 L2037.1,1062.6 L2037,1064.6 L2036.8,1066.6 L2036.6,1068.6 L2036.4,1070.6 L2036.3,1072.6 L2036.1,1074.6 L2035.9,1076.6 L2035.7,1078.6 L2035.5,1080.6 L2035.3,1082.6 L2035.1,1084.6 L2034.9,1086.6 L2034.7,1088.6 L2034.5,1090.6 L2034.3,1092.6 L2034.1,1094.5 L2033.9,1096.5 L2033.7,1098.5 L2033.4,1100.5 L2033.2,1102.5 L2033,1104.5 L2032.7,1106.5 L2032.5,1108.5 L2032.3,1110.4 L2032,1112.4 L2031.8,1114.4 L2031.5,1116.4 L2031.3,1118.4 L2031,1120.4 L2030.8,1122.3 L2030.5,1124.3 L2030.3,1126.3 L2030,1128.3 L2029.7,1130.2 L2029.5,1132.2 L2029.2,1134.2 L2028.9,1136.2 L2028.6,1138.1 L2028.3,1140.1 L2028,1142.1 L2027.8,1144 L2027.5,1146 L2027.2,1148 L2026.9,1149.9 L2026.5,1151.9 L2026.2,1153.9 L2025.9,1155.8 L2025.6,1157.8 L2025.3,1159.7 L2025,1161.7 L2024.6,1163.7 L2024.3,1165.6 L2024,1167.6 L2023.6,1169.5 L2023.3,1171.5 L2022.9,1173.4 L2022.6,1175.4 L2022.2,1177.3 L2021.9,1179.3 L2021.5,1181.3 L2021.2,1183.2 L2020.8,1185.2 L2020.4,1187.1 L2020.1,1189 L2019.7,1191 L2019.3,1192.9 L2018.9,1194.9 L2018.5,1196.8 L2018.1,1198.8 L2017.7,1200.7 L2017.3,1202.7 L2016.9,1204.6 L2016.5,1206.6 L2016.1,1208.5 L2015.7,1210.4 L2015.3,1212.4 L2014.8,1214.3 L2014.4,1216.3 L2014,1218.2 L2013.5,1220.1 L2013.1,1222.1 L2012.6,1224 L2012.2,1226 L2011.7,1227.9 L2011.3,1229.8 L2010.8,1231.8 L2010.4,1233.7 L2009.9,1235.7 L2009.4,1237.6 L2008.9,1239.5 L2008.4,1241.5 L2008,1243.4 L2007.5,1245.4 L2007,1247.3 L2006.5,1249.2 L2006,1251.2 L2005.5,1253.1 L2004.9,1255.1 L2004.4,1257 L2003.9,1258.9 L2003.4,1260.9 L2002.8,1262.8 L2002.3,1264.7 L2001.8,1266.7 L2001.2,1268.6 L2000.7,1270.6 L2000.1,1272.5 L1999.5,1274.4 L1999,1276.4 L1998.4,1278.3 L1997.8,1280.3 L1997.3,1282.2 L1996.7,1284.2 L1996.1,1286.1 L1995.5,1288 L1994.9,1290 L1994.3,1291.9 L1993.7,1293.9 L1993.1,1295.8 L1992.5,1297.8 L1991.8,1299.7 L1991.2,1301.7 L1990.6,1303.6 L1989.9,1305.6 L1989.3,1307.5 L1988.7,1309.5 L1988,1311.4 L1987.3,1313.3 L1986.7,1315.3 L1986,1317.2 L1985.3,1319.2 L1984.6,1321.1 L1983.9,1323.1 L1983.2,1325 L1982.5,1326.9 L1981.8,1328.8 L1981.1,1330.8 L1980.3,1332.7 L1979.6,1334.6 L1978.8,1336.5 L1978.1,1338.4 L1977.3,1340.3 L1976.5,1342.2 L1975.7,1344.1 L1974.9,1345.9 L1974.1,1347.8 L1973.2,1349.7 L1972.4,1351.5 L1971.5,1353.4 L1970.7,1355.2 L1969.8,1357 L1968.9,1358.8 L1968,1360.6 L1967,1362.4 L1966.1,1364.2 L1965.1,1365.9 L1964.1,1367.7 L1963.2,1369.4 L1962.1,1371.2 L1961.1,1372.9 L1960.1,1374.6 L1959,1376.3 L1958,1378 L1956.9,1379.6 L1955.8,1381.3 L1954.6,1382.9 L1953.5,1384.5 L1952.3,1386.1 L1951.1,1387.7 L1949.9,1389.2 L1948.7,1390.8 L1947.5,1392.3 L1946.2,1393.8 L1944.9,1395.3 L1943.6,1396.8 L1942.3,1398.2 L1940.9,1399.7 L1939.6,1401.1 L1938.2,1402.5 L1936.8,1403.8 L1935.3,1405.2 L1933.9,1406.5 L1932.4,1407.8 L1930.9,1409.1 L1929.3,1410.4 L1927.8,1411.6 L1926.2,1412.8 L1924.6,1414 L1923,1415.2 L1921.3,1416.3 L1919.6,1417.4 L1918,1418.5 L1916.2,1419.5 L1914.5,1420.5 L1912.8,1421.4 L1911,1422.3 L1909.2,1423.2 L1907.4,1424 L1905.6,1424.7 L1903.8,1425.4 L1901.9,1426.1 L1900.1,1426.7 L1898.2,1427.2 L1896.4,1427.7 L1894.5,1428.1 L1892.6,1428.4 L1890.7,1428.7 L1888.8,1428.9 L1886.9,1429 L1885,1429.1 L1883.1,1429 L1881.2,1428.9 L1879.3,1428.8 L1877.4,1428.6 L1875.4,1428.3 L1873.5,1427.9 L1871.6,1427.5 L1869.7,1427 L1867.9,1426.5 L1866,1425.9 L1864.1,1425.3 L1862.3,1424.6 L1860.4,1423.9 L1858.6,1423.1 L1856.8,1422.2 L1855,1421.4 L1853.2,1420.5 L1851.5,1419.5 L1849.7,1418.5 L1848,1417.5 L1846.3,1416.5 L1844.6,1415.4 L1842.9,1414.3 L1841.3,1413.1 L1839.6,1412 L1837.9,1410.8 L1836.3,1409.6 L1834.7,1408.3 L1833.1,1407.1 L1831.5,1405.8 L1829.9,1404.5 L1828.3,1403.2 L1826.7,1401.9 L1825.1,1400.5 L1823.5,1399.2 L1821.9,1397.8 L1820.4,1396.5 L1818.8,1395.1 L1817.2,1393.7 L1815.7,1392.4 L1814.1,1391 L1812.5,1389.6 L1811,1388.2 L1809.4,1386.9 L1807.8,1385.5 L1806.3,1384.2 L1804.7,1382.8 L1803.1,1381.5 L1801.5,1380.2 L1800,1378.9 L1798.4,1377.6 L1796.8,1376.4 L1795.1,1375.1 L1793.5,1373.9 L1791.9,1372.7 L1790.3,1371.5 L1788.6,1370.4 L1786.9,1369.3 L1785.3,1368.2 L1783.6,1367.1 L1781.9,1366.1 L1780.2,1365.1 L1778.5,1364.1 L1776.8,1363.1 L1775,1362.2 L1773.3,1361.3 L1771.6,1360.4 L1769.8,1359.5 L1768,1358.7 L1766.3,1357.9 L1764.5,1357.1 L1762.7,1356.3 L1760.9,1355.5 L1759.1,1354.8 L1757.2,1354.1 L1755.4,1353.4 L1753.6,1352.7 L1751.7,1352.1 L1749.9,1351.5 L1748,1350.8 L1746.2,1350.3 L1744.3,1349.7 L1742.4,1349.1 L1740.5,1348.6 L1738.6,1348.1 L1736.7,1347.6 L1734.8,1347.1 L1732.9,1346.6 L1731,1346.2 L1729.1,1345.7 L1727.2,1345.3 L1725.2,1344.9 L1723.3,1344.5 L1721.3,1344.2 L1719.4,1343.8 L1717.4,1343.4 L1715.5,1343.1 L1713.5,1342.8 L1711.5,1342.5 L1709.6,1342.2 L1707.6,1341.9 L1705.6,1341.6 L1703.6,1341.4 L1701.6,1341.1 L1699.6,1340.9 L1697.6,1340.7 L1695.6,1340.5 L1693.6,1340.3 L1691.6,1340.1 L1689.6,1339.9 L1687.6,1339.7 L1685.6,1339.5 L1683.6,1339.4 L1681.6,1339.2 L1679.5,1339.1 L1677.5,1338.9 L1675.5,1338.8 L1673.5,1338.7 L1671.4,1338.6 L1669.4,1338.4 L1667.4,1338.3 L1665.4,1338.2 L1663.3,1338.1 L1661.3,1338 L1659.3,1337.9 L1657.2,1337.9 L1655.2,1337.8 L1653.2,1337.7 L1651.1,1337.6 L1649.1,1337.5 L1647.1,1337.5 L1645,1337.4 L1643,1337.3 L1641,1337.3 L1638.9,1337.2 L1636.9,1337.1 L1634.9,1337.1 L1632.8,1337 L1630.8,1336.9 L1628.8,1336.9 L1626.8,1336.8 L1624.7,1336.7 L1622.7,1336.7 L1620.7,1336.6 L1618.7,1336.6 L1616.7,1336.5 L1614.6,1336.4 L1612.6,1336.4 L1610.6,1336.3 L1608.6,1336.3 L1606.5,1336.2 L1604.5,1336.2 L1602.5,1336.1 L1600.5,1336.1 L1598.5,1336 L1596.5,1336 L1594.4,1335.9 L1592.4,1335.9 L1590.4,1335.8 L1588.4,1335.8 L1586.4,1335.7 L1584.4,1335.7 L1582.4,1335.6 L1580.4,1335.6 L1578.3,1335.5 L1576.3,1335.5 L1574.3,1335.5 L1572.3,1335.4 L1570.3,1335.4 L1568.3,1335.3 L1566.3,1335.3 L1564.3,1335.3 L1562.3,1335.2 L1560.3,1335.2 L1558.3,1335.2 L1556.3,1335.1 L1554.3,1335.1 L1552.2,1335.1 L1550.2,1335 L1548.2,1335 L1546.2,1335 L1544.2,1334.9 L1542.2,1334.9 L1540.2,1334.9 L1538.2,1334.8 L1536.2,1334.8 L1534.2,1334.8 L1532.2,1334.8 L1530.2,1334.7 L1528.2,1334.7 L1526.2,1334.7 L1524.2,1334.7 L1522.2,1334.6 L1520.2,1334.6 L1518.2,1334.6 L1516.2,1334.6 L1514.2,1334.5 L1512.2,1334.5 L1510.2,1334.5 L1508.2,1334.5 L1506.2,1334.4 L1504.2,1334.4 L1502.2,1334.4 L1500.2,1334.4 L1498.3,1334.4 L1496.3,1334.4 L1494.3,1334.3 L1492.3,1334.3 L1490.3,1334.3 L1488.3,1334.3 L1486.3,1334.3 L1484.3,1334.3 L1482.3,1334.2 L1480.3,1334.2 L1478.3,1334.2 L1476.3,1334.2 L1474.3,1334.2 L1472.3,1334.2 L1470.3,1334.2 L1468.3,1334.1 L1466.3,1334.1 L1464.3,1334.1 L1462.3,1334.1 L1460.4,1334.1 L1458.4,1334.1 L1456.4,1334.1 L1454.4,1334.1 L1452.4,1334.1 L1450.4,1334 L1448.4,1334 L1446.4,1334 L1444.4,1334 L1442.4,1334 L1440.4,1334 L1438.4,1334 L1436.4,1334 L1434.4,1334 L1432.4,1334 L1430.5,1334 L1428.5,1333.9 L1426.5,1333.9 L1424.5,1333.9 L1422.5,1333.9 L1420.5,1333.9 L1418.5,1333.9 L1416.5,1333.9 L1414.5,1333.9 L1412.5,1333.9 L1410.5,1333.9 L1408.5,1333.9 L1406.5,1333.9 L1404.5,1333.9 L1402.5,1333.9 L1400.5,1333.9 L1398.5,1333.9 L1396.5,1333.9 L1394.5,1333.8 L1392.6,1333.8 L1390.6,1333.8 L1388.6,1333.8 L1386.6,1333.8 L1384.6,1333.8 L1382.6,1333.8 L1380.6,1333.8 L1378.6,1333.8 L1376.6,1333.8 L1374.6,1333.8 L1372.6,1333.8 L1370.6,1333.8 L1368.6,1333.8 L1366.6,1333.8 L1364.6,1333.8 L1362.6,1333.8 L1360.6,1333.8 L1358.6,1333.8 L1356.6,1333.8 L1354.6,1333.8 L1352.6,1333.7 L1350.6,1333.7 L1348.6,1333.7 L1346.6,1333.7 L1344.6,1333.7 L1342.6,1333.7 L1340.6,1333.7 L1338.5,1333.7 L1336.5,1333.7 L1334.5,1333.7 L1332.5,1333.7 L1330.5,1333.7 L1328.5,1333.7 L1326.5,1333.7 L1324.5,1333.7 L1322.5,1333.7 L1320.5,1333.6 L1318.5,1333.6 L1316.5,1333.6 L1314.5,1333.6 L1312.4,1333.6 L1310.4,1333.6 L1308.4,1333.6 L1306.4,1333.6 L1304.4,1333.6 L1302.4,1333.6 L1300.4,1333.6 L1298.4,1333.5 L1296.3,1333.5 L1294.3,1333.5 L1292.3,1333.5 L1290.3,1333.5 L1288.3,1333.5 L1286.3,1333.5 L1284.2,1333.5 L1282.2,1333.5 L1280.2,1333.4 L1278.2,1333.4 L1276.2,1333.4 L1274.1,1333.4 L1272.1,1333.4 L1270.1,1333.4 L1268.1,1333.3 L1266,1333.3 L1264,1333.3 L1262,1333.3 L1260,1333.3 L1257.9,1333.3 L1255.9,1333.2 L1253.9,1333.2 L1251.8,1333.2 L1250,1333 L280.4,1332.9" stroke="#808000" stroke-width="12.8"/>
<path d="M280.4,1332.6 L600,1332.9 L640,1333.6 L665,1335.2 L690,1337 L712,1337.4 L730,1335.6 L747,1332.4 L770,1327.2 L793.6,1321.3 L815,1314.6 L836.7,1307 L858.8,1297.8 L870,1294.3 L878,1290.4 L886,1286.5 L894,1282.4 L902,1278.4 L910,1274.2 L918,1270 L926,1265.7 L934,1261.4 L942,1257 L950,1252.5 L958,1248 L966,1243.4 L974,1238.8 L982,1234 L990,1229.3 L998,1224.5 L1006,1219.6 L1014,1214.7 L1022,1209.7 L1030,1204.6 L1038,1199.5 L1046,1194.3 L1054,1189.1 L1062,1183.8 L1070,1178.5 L1078,1173.1 L1086,1167.7 L1094,1162.2 L1102,1156.6 L1110,1151 L1118,1145.4 L1126,1139.7 L1134,1133.9 L1142,1128.1 L1150,1122.2 L1158,1116.3 L1166,1110.3 L1174,1104.3 L1182,1098.2 L1190,1092.1 L1198,1086 L1206,1079.7 L1214,1073.5 L1222,1067.2 L1230,1060.8 L1238,1054.4 L1246,1047.9 L1254,1041.4 L1262,1034.9 L1270,1028.3 L1278,1021.6 L1286,1014.9 L1294,1008.2 L1302,1001.4 L1310,994.6 L1318,987.7 L1326,980.8 L1334,973.8 L1342,966.8 L1350,959.8 L1358,952.7 L1366,945.6 L1374,938.4 L1382,931.2 L1390,924 L1398,916.7 L1406,909.3 L1414,902 L1422,894.6 L1430,887.1 L1438,879.6 L1446,872.1 L1454,864.5 L1462,856.9 L1470,849.3 L1478,841.6 L1486,833.9 L1494,826.1 L1502,818.4 L1510,810.5 L1518,802.7 L1526,794.8 L1534,786.9 L1542,778.9 L1550,770.9 L1558,762.9 L1566,754.8 L1574,746.7 L1582,738.6 L1590,730.5 L1598,722.3 L1606,714.1 L1614,705.8 L1622,697.5 L1630,689.2 L1638,680.9 L1646,672.5 L1654,664.1 L1662,655.7 L1670,647.3 L1678,638.8 L1686,630.3 L1694,621.7 L1702,613.2 L1710,604.6 L1718,596 L1726,587.3 L1734,578.6 L1742,569.9 L1750,561.2 L1758,552.4 L1766,543.6 L1774,534.8 L1782,526 L1790,517.1 L1798,508.2 L1806,499.3 L1814,490.3 L1822,481.4 L1830,472.4 L1838,463.3 L1846,454.3 L1854,445.2 L1862,436.1 L1870,426.9 L1878,417.8 L1886,408.6 L1894,399.4 L1902,390.1 L1910,380.8 L1918,371.5 L1926,362.2 L1934,352.9 L1942,343.5 L1950,334.1 L1958,324.7 L1966,315.2 L1974,305.7 L1982,296.2 L1990,286.7 L1998,277.1 L2006,267.5 L2014,257.9 L2022,248.3 L2030,238.6 L2038,229 L2046,219.3 L2054,209.5 L2062,199.8 L2070,190 L2078,180.2 L2086,170.3 L2094,160.5 L2102,150.6 L2110,140.7 L2118,130.8 L2126,120.8 L2134,110.8 L2142,100.8 L2150,90.8 L2158,80.7 L2171.5,64.3 L2171.9,910 L2171.9,912 L2171.9,914 L2171.9,916 L2171.9,918 L2171.9,920 L2171.9,922 L2171.9,924 L2171.9,926 L2171.9,928 L2171.9,930 L2171.9,932 L2171.9,934.1 L2171.9,936.1 L2171.9,938.1 L2171.8,940.1 L2171.8,942.1 L2171.8,944.1 L2171.7,946.1 L2171.7,948.1 L2171.6,950.1 L2171.6,952.1 L2171.5,954.1 L2171.4,956.1 L2171.4,958.1 L2171.3,960.1 L2171.2,962.1 L2171.2,964.1 L2171.1,966.1 L2171,968.2 L2170.9,970.2 L2170.8,972.2 L2170.7,974.2 L2170.6,976.2 L2170.5,978.2 L2170.4,980.2 L2170.3,982.2 L2170.2,984.2 L2170.1,986.2 L2170,988.2 L2169.8,990.2 L2169.7,992.2 L2169.6,994.2 L2169.4,996.2 L2169.3,998.2 L2169.2,1000.2 L2169,1002.2 L2168.9,1004.2 L2168.7,1006.3 L2168.6,1008.3 L2168.4,1010.3 L2168.2,1012.3 L2168.1,1014.3 L2167.9,1016.3 L2167.7,1018.3 L2167.6,1020.3 L2167.4,1022.3 L2167.2,1024.3 L2167,1026.3 L2166.8,1028.3 L2166.6,1030.3 L2166.4,1032.3 L2166.2,1034.3 L2166,1036.3 L2165.8,1038.3 L2165.6,1040.3 L2165.4,1042.3 L2165.2,1044.3 L2165,1046.3 L2164.8,1048.3 L2164.5,1050.3 L2164.3,1052.3 L2164.1,1054.3 L2163.9,1056.3 L2163.6,1058.3 L2163.4,1060.3 L2163.1,1062.3 L2162.9,1064.3 L2162.6,1066.2 L2162.4,1068.2 L2162.1,1070.2 L2161.9,1072.2 L2161.6,1074.2 L2161.4,1076.2 L2161.1,1078.2 L2160.8,1080.2 L2160.6,1082.2 L2160.3,1084.2 L2160,1086.2 L2159.7,1088.2 L2159.4,1090.1 L2159.2,1092.1 L2158.9,1094.1 L2158.6,1096.1 L2158.3,1098.1 L2158,1100.1 L2157.7,1102.1 L2157.4,1104 L2157.1,1106 L2156.8,1108 L2156.5,1110 L2156.2,1112 L2155.8,1114 L2155.5,1115.9 L2155.2,1117.9 L2154.9,1119.9 L2154.6,1121.9 L2154.2,1123.9 L2153.9,1125.8 L2153.6,1127.8 L2153.2,1129.8 L2152.9,1131.8 L2152.6,1133.7 L2152.2,1135.7 L2151.9,1137.7 L2151.5,1139.7 L2151.2,1141.6 L2150.8,1143.6 L2150.5,1145.6 L2150.1,1147.5 L2149.8,1149.5 L2149.4,1151.5 L2149,1153.4 L2148.7,1155.4 L2148.3,1157.4 L2147.9,1159.3 L2147.6,1161.3 L2147.2,1163.3 L2146.8,1165.2 L2146.4,1167.2 L2146.1,1169.2 L2145.7,1171.1 L2145.3,1173.1 L2144.9,1175 L2144.5,1177 L2144.1,1178.9 L2143.7,1180.9 L2143.3,1182.8 L2142.9,1184.8 L2142.6,1186.7 L2142.1,1188.7 L2141.7,1190.7 L2141.3,1192.6 L2140.9,1194.5 L2140.5,1196.5 L2140.1,1198.4 L2139.7,1200.4 L2139.3,1202.3 L2138.9,1204.3 L2138.4,1206.2 L2138,1208.2 L2137.6,1210.1 L2137.2,1212 L2136.7,1214 L2136.3,1215.9 L2135.9,1217.9 L2135.4,1219.8 L2135,1221.7 L2134.5,1223.7 L2134.1,1225.6 L2133.6,1227.5 L2133.2,1229.5 L2132.7,1231.4 L2132.2,1233.3 L2131.8,1235.3 L2131.3,1237.2 L2130.8,1239.1 L2130.3,1241.1 L2129.9,1243 L2129.4,1244.9 L2128.9,1246.9 L2128.4,1248.8 L2127.9,1250.7 L2127.4,1252.6 L2126.9,1254.6 L2126.4,1256.5 L2125.9,1258.4 L2125.4,1260.4 L2124.8,1262.3 L2124.3,1264.2 L2123.8,1266.1 L2123.3,1268.1 L2122.7,1270 L2122.2,1271.9 L2121.6,1273.8 L2121.1,1275.8 L2120.5,1277.7 L2120,1279.6 L2119.4,1281.5 L2118.8,1283.4 L2118.3,1285.4 L2117.7,1287.3 L2117.1,1289.2 L2116.5,1291.1 L2115.9,1293.1 L2115.3,1295 L2114.7,1296.9 L2114.1,1298.8 L2113.5,1300.7 L2112.9,1302.7 L2112.2,1304.6 L2111.6,1306.5 L2111,1308.4 L2110.3,1310.3 L2109.7,1312.3 L2109,1314.2 L2108.4,1316.1 L2107.7,1318 L2107,1320 L2106.3,1321.9 L2105.7,1323.8 L2105,1325.7 L2104.3,1327.6 L2103.6,1329.6 L2102.9,1331.5 L2102.2,1333.4 L2101.4,1335.3 L2100.7,1337.2 L2100,1339.2 L2099.2,1341.1 L2098.5,1343 L2097.7,1344.9 L2096.9,1346.8 L2096.1,1348.7 L2095.4,1350.6 L2094.6,1352.5 L2093.7,1354.3 L2092.9,1356.2 L2092.1,1358.1 L2091.2,1359.9 L2090.4,1361.8 L2089.5,1363.6 L2088.6,1365.5 L2087.7,1367.3 L2086.8,1369.1 L2085.8,1370.9 L2084.9,1372.7 L2083.9,1374.5 L2083,1376.2 L2082,1378 L2081,1379.7 L2079.9,1381.4 L2078.9,1383.1 L2077.8,1384.8 L2076.8,1386.5 L2075.7,1388.2 L2074.5,1389.8 L2073.4,1391.4 L2072.3,1393.1 L2071.1,1394.6 L2069.9,1396.2 L2068.7,1397.8 L2067.4,1399.3 L2066.2,1400.8 L2064.9,1402.3 L2063.6,1403.8 L2062.3,1405.2 L2060.9,1406.7 L2059.6,1408.1 L2058.2,1409.5 L2056.8,1410.8 L2055.3,1412.2 L2053.9,1413.5 L2052.4,1414.8 L2050.8,1416 L2049.3,1417.2 L2047.7,1418.5 L2046.1,1419.6 L2044.5,1420.8 L2042.9,1421.9 L2041.2,1423 L2039.5,1424.1 L2037.8,1425.1 L2036,1426.1 L2034.3,1427 L2032.5,1427.9 L2030.7,1428.8 L2028.9,1429.6 L2027,1430.3 L2025.2,1431.1 L2023.3,1431.7 L2021.4,1432.3 L2019.5,1432.9 L2017.6,1433.4 L2015.7,1433.9 L2013.8,1434.2 L2011.9,1434.6 L2009.9,1434.8 L2008,1435 L2006,1435.2 L2004.1,1435.2 L2002.1,1435.2 L2000.1,1435.2 L1998.2,1435 L1996.2,1434.8 L1994.2,1434.6 L1992.3,1434.3 L1990.3,1433.9 L1988.4,1433.5 L1986.5,1433 L1984.5,1432.4 L1982.6,1431.9 L1980.7,1431.2 L1978.8,1430.5 L1976.9,1429.8 L1975.1,1429 L1973.2,1428.2 L1971.4,1427.3 L1969.6,1426.4 L1967.8,1425.4 L1966.1,1424.4 L1964.3,1423.4 L1962.6,1422.3 L1961,1421.2 L1959.3,1420.1 L1957.6,1418.9 L1956,1417.7 L1954.4,1416.4 L1952.8,1415.2 L1951.2,1413.9 L1949.7,1412.6 L1948.1,1411.3 L1946.6,1409.9 L1945.1,1408.5 L1943.6,1407.2 L1942.1,1405.8 L1940.6,1404.3 L1939.1,1402.9 L1937.6,1401.5 L1936.1,1400.1 L1934.6,1398.6 L1933.2,1397.2 L1931.7,1395.7 L1930.2,1394.3 L1928.8,1392.8 L1927.3,1391.4 L1925.8,1390 L1924.4,1388.5 L1922.9,1387.1 L1921.4,1385.7 L1919.9,1384.3 L1918.4,1382.9 L1916.9,1381.5 L1915.4,1380.2 L1913.9,1378.9 L1912.4,1377.6 L1910.8,1376.3 L1909.3,1375 L1907.7,1373.8 L1906.1,1372.6 L1904.5,1371.4 L1902.9,1370.2 L1901.2,1369.1 L1899.6,1368 L1897.9,1367 L1896.2,1366 L1894.5,1365 L1892.8,1364 L1891.1,1363.1 L1889.3,1362.1 L1887.6,1361.2 L1885.8,1360.4 L1884,1359.5 L1882.2,1358.7 L1880.4,1357.9 L1878.6,1357.2 L1876.8,1356.4 L1875,1355.7 L1873.1,1355 L1871.3,1354.3 L1869.4,1353.6 L1867.6,1353 L1865.7,1352.3 L1863.8,1351.7 L1861.9,1351.1 L1860,1350.6 L1858.2,1350 L1856.3,1349.5 L1854.4,1348.9 L1852.5,1348.4 L1850.5,1347.9 L1848.6,1347.5 L1846.7,1347 L1844.8,1346.6 L1842.9,1346.1 L1840.9,1345.7 L1839,1345.3 L1837.1,1344.9 L1835.1,1344.5 L1833.2,1344.2 L1831.2,1343.8 L1829.3,1343.5 L1827.3,1343.2 L1825.3,1342.8 L1823.4,1342.5 L1821.4,1342.2 L1819.4,1342 L1817.4,1341.7 L1815.5,1341.4 L1813.5,1341.2 L1811.5,1341 L1809.5,1340.7 L1807.5,1340.5 L1805.5,1340.3 L1803.5,1340.1 L1801.5,1339.9 L1799.5,1339.8 L1797.5,1339.6 L1795.5,1339.4 L1793.5,1339.3 L1791.5,1339.1 L1789.5,1339 L1787.5,1338.8 L1785.5,1338.7 L1783.4,1338.6 L1781.4,1338.5 L1779.4,1338.4 L1777.4,1338.3 L1775.4,1338.2 L1773.4,1338.1 L1771.3,1338 L1769.3,1337.9 L1767.3,1337.8 L1765.3,1337.7 L1763.2,1337.7 L1761.2,1337.6 L1759.2,1337.5 L1757.2,1337.5 L1755.1,1337.4 L1753.1,1337.4 L1751.1,1337.3 L1749,1337.3 L1747,1337.2 L1745,1337.1 L1743,1337.1 L1740.9,1337 L1738.9,1337 L1736.9,1336.9 L1734.9,1336.9 L1732.9,1336.8 L1730.8,1336.8 L1728.8,1336.7 L1726.8,1336.7 L1724.8,1336.7 L1722.8,1336.6 L1720.7,1336.6 L1718.7,1336.5 L1716.7,1336.5 L1714.7,1336.4 L1712.7,1336.4 L1710.7,1336.3 L1708.6,1336.3 L1706.6,1336.2 L1704.6,1336.2 L1702.6,1336.1 L1700.6,1336.1 L1698.6,1336 L1696.6,1336 L1694.6,1335.9 L1692.5,1335.9 L1690.5,1335.8 L1688.5,1335.8 L1686.5,1335.8 L1684.5,1335.7 L1682.5,1335.7 L1680.5,1335.6 L1678.5,1335.6 L1676.5,1335.5 L1674.5,1335.5 L1672.5,1335.4 L1670.5,1335.4 L1668.5,1335.4 L1666.5,1335.3 L1664.5,1335.3 L1662.5,1335.2 L1660.5,1335.2 L1658.5,1335.1 L1656.5,1335.1 L1654.5,1335.1 L1652.4,1335 L1650.4,1335 L1648.4,1334.9 L1646.4,1334.9 L1644.5,1334.9 L1642.5,1334.8 L1640.5,1334.8 L1638.5,1334.7 L1636.5,1334.7 L1634.5,1334.7 L1632.5,1334.6 L1630.5,1334.6 L1628.5,1334.5 L1626.5,1334.5 L1624.5,1334.5 L1622.5,1334.4 L1620.5,1334.4 L1618.5,1334.4 L1616.5,1334.3 L1614.5,1334.3 L1612.5,1334.2 L1610.5,1334.2 L1608.5,1334.2 L1606.5,1334.1 L1604.5,1334.1 L1602.5,1334.1 L1600.5,1334 L1598.6,1334 L1596.6,1334 L1594.6,1333.9 L1592.6,1333.9 L1590.6,1333.9 L1588.6,1333.8 L1586.6,1333.8 L1584.6,1333.8 L1582.6,1333.7 L1580.6,1333.7 L1578.6,1333.7 L1576.6,1333.6 L1574.7,1333.6 L1572.7,1333.6 L1570.7,1333.5 L1568.7,1333.5 L1566.7,1333.5 L1564.7,1333.5 L1562.7,1333.4 L1560.7,1333.4 L1558.7,1333.4 L1556.7,1333.3 L1554.7,1333.3 L1552.8,1333.3 L1550.8,1333.3 L1548.8,1333.2 L1546.8,1333.2 L1544.8,1333.2 L1542.8,1333.2 L1540.8,1333.1 L1538.8,1333.1 L1536.8,1333.1 L1534.8,1333.1 L1532.9,1333 L1530.9,1333 L1528.9,1333 L1526.9,1333 L1524.9,1332.9 L1522.9,1332.9 L1520.9,1332.9 L1518.9,1332.9 L1516.9,1332.8 L1514.9,1332.8 L1513,1332.8 L1511,1332.8 L1509,1332.8 L1507,1332.7 L1505,1332.7 L1503,1332.7 L1501,1332.7 L1499,1332.7 L1497,1332.7 L1495,1332.6 L1493,1332.6 L1491,1332.6 L1489.1,1332.6 L1487.1,1332.6 L1485.1,1332.6 L1483.1,1332.5 L1481.1,1332.5 L1479.1,1332.5 L1477.1,1332.5 L1475.1,1332.5 L1473.1,1332.5 L1471.1,1332.5 L1469.1,1332.4 L1467.1,1332.4 L1465.1,1332.4 L1463.1,1332.4 L1461.1,1332.4 L1459.1,1332.4 L1457.1,1332.4 L1455.2,1332.4 L1453.2,1332.4 L1451.2,1332.3 L1449.2,1332.3 L1447.2,1332.3 L1445.2,1332.3 L1443.2,1332.3 L1441.2,1332.3 L1439.2,1332.3 L1437.2,1332.3 L1435.2,1332.3 L1433.2,1332.3 L1431.2,1332.3 L1429.2,1332.3 L1427.2,1332.3 L1425.2,1332.3 L1423.2,1332.3 L1421.2,1332.3 L1419.2,1332.3 L1417.2,1332.3 L1415.1,1332.3 L1413.1,1332.3 L1411.1,1332.3 L1409.1,1332.3 L1407.1,1332.3 L1405.1,1332.3 L1403.1,1332.3 L1401.1,1332.3 L1399.1,1332.3 L1397.1,1332.3 L1395.1,1332.3 L1393.1,1332.3 L1391.1,1332.3 L1389.1,1332.3 L1387,1332.3 L1385,1332.3 L1383,1332.3 L1381,1332.3 L1379,1332.3 L1377,1332.3 L1375,1332.3 L1373,1332.3 L1370.9,1332.3 L1368.9,1332.3 L1366.9,1332.3 L1364.9,1332.4 L1362.9,1332.4 L1360.9,1332.4 L1358.8,1332.4 L1356.8,1332.4 L1354.8,1332.4 L1352.8,1332.4 L1350.7,1332.4 L1348.7,1332.5 L1346.7,1332.5 L1344.7,1332.5 L1342.7,1332.5 L1340.6,1332.5 L1338.6,1332.5 L1336.6,1332.5 L1334.6,1332.6 L1332.5,1332.6 L1330.5,1332.6 L1328.5,1332.6 L1326.4,1332.6 L1324.4,1332.7 L1322.4,1332.7 L1320.3,1332.7 L1318.3,1332.7 L1316.3,1332.7 L1314.2,1332.8 L1312.2,1332.8 L1310.2,1332.8 L1308.1,1332.8 L1306.1,1332.9 L1304.1,1332.9 L1302,1332.9 L1300,1332.9 L280.4,1332.6" stroke="#800000" stroke-width="13"/>
</g>
<g fill="#000"><text font-family="'Liberation Serif', 'DejaVu Serif', serif" font-size="72" transform="matrix(0.9896 0 0 0.9959 140.23 65.78)">150</text><text font-family="'Liberation Serif', 'DejaVu Serif', serif" font-size="72" transform="matrix(0.9903 0 0 1.0003 140.23 193.93)">135</text><text font-family="'Liberation Serif', 'DejaVu Serif', serif" font-size="72" transform="matrix(0.9896 0 0 0.9959 140.23 322.08)">120</text><text font-family="'Liberation Serif', 'DejaVu Serif', serif" font-size="72" transform="matrix(0.9903 0 0 0.9959 140.23 450.23)">105</text><text font-family="'Liberation Serif', 'DejaVu Serif', serif" font-size="72" transform="matrix(0.9857 0 0 0.9959 176.13 578.38)">90</text><text font-family="'Liberation Serif', 'DejaVu Serif', serif" font-size="72" transform="matrix(1.0242 0 0 1.0109 173.53 706.52)">75</text><text font-family="'Liberation Serif', 'DejaVu Serif', serif" font-size="72" transform="matrix(0.9975 0 0 0.9959 175.31 834.68)">60</text><text font-family="'Liberation Serif', 'DejaVu Serif', serif" font-size="72" transform="matrix(0.9741 0 0 1.0063 177.00 962.83)">45</text><text font-family="'Liberation Serif', 'DejaVu Serif', serif" font-size="72" transform="matrix(1.0029 0 0 0.9959 174.93 1090.98)">30</text><text font-family="'Liberation Serif', 'DejaVu Serif', serif" font-size="72" transform="matrix(1.0023 0 0 1.0033 175.05 1219.13)">15</text><text font-family="'Liberation Serif', 'DejaVu Serif', serif" font-size="72" transform="matrix(0.9860 0 0 0.9959 211.60 1347.28)">0</text><text font-family="'Liberation Serif', 'DejaVu Serif', serif" font-size="72" transform="matrix(0.9723 0 0 1.0033 153.81 1475.43)">-15</text><text font-family="'Liberation Serif', 'DejaVu Serif', serif" font-size="72" transform="matrix(0.9671 0 0 0.9959 154.22 1603.58)">-30</text><text font-family="'Liberation Serif', 'DejaVu Serif', serif" font-size="72" transform="matrix(0.9615 0 0 0.9900 224.74 1672.30)">-1.0</text><text font-family="'Liberation Serif', 'DejaVu Serif', serif" font-size="72" transform="matrix(0.9622 0 0 0.9900 485.14 1672.30)">-0.5</text><text font-family="'Liberation Serif', 'DejaVu Serif', serif" font-size="72" transform="matrix(0.9701 0 0 0.9900 755.75 1672.30)">0.0</text><text font-family="'Liberation Serif', 'DejaVu Serif', serif" font-size="72" transform="matrix(0.9792 0 0 0.9900 1015.32 1672.30)">0.5</text><text font-family="'Liberation Serif', 'DejaVu Serif', serif" font-size="72" transform="matrix(0.9824 0 0 0.9900 1273.28 1672.30)">1.0</text><text font-family="'Liberation Serif', 'DejaVu Serif', serif" font-size="72" transform="matrix(0.9993 0 0 0.9974 1533.07 1672.29)">1.5</text><text font-family="'Liberation Serif', 'DejaVu Serif', serif" font-size="72" transform="matrix(0.9905 0 0 0.9900 1793.96 1672.30)">2.0</text><text font-family="'Liberation Serif', 'DejaVu Serif', serif" font-size="72" transform="matrix(0.9842 0 0 0.9944 2053.58 1672.30)">2.5</text><text font-family="'Liberation Serif', 'DejaVu Serif', serif" font-size="72" transform="matrix(0.9939 0 0 0.9900 2312.86 1672.30)">3.0</text><text font-family="'Liberation Serif', 'DejaVu Serif', serif" font-size="70" transform="matrix(1.0973 0 0 1.0231 868.87 1782.70)">Dimensionless Approach</text><text font-family="'Liberation Serif', 'DejaVu Serif', serif" font-size="70" font-style="italic" transform="matrix(0.9322 0 0 0.9913 1655.71 1783.41)">δ</text><rect x="1654.9" y="1711.9" width="35.2" height="8.1"/><g transform="rotate(-90)"><text font-family="'Liberation Serif', 'DejaVu Serif', serif" font-size="70" transform="matrix(1.0642 0 0 1.0251 -1182.06 89.80)">Dimensionless Force</text><text font-family="'Liberation Serif', 'DejaVu Serif', serif" font-size="70" font-style="italic" transform="matrix(0.8723 0 0 1.0185 -536.59 89.80)">F</text></g><rect x="19.1" y="498.8" width="7.9" height="39.1"/><text font-family="'Liberation Serif', 'DejaVu Serif', serif" font-size="72" transform="matrix(0.7497 0 0 1.0143 632.15 1169.00)">1</text><text font-family="'Liberation Serif', 'DejaVu Serif', serif" font-size="72" transform="matrix(0.8814 0 0 1.0148 795.32 1024.17)">13</text><text font-family="'Liberation Serif', 'DejaVu Serif', serif" font-size="72" transform="matrix(0.9356 0 0 1.0024 939.67 856.88)">35</text><text font-family="'Liberation Serif', 'DejaVu Serif', serif" font-size="72" transform="matrix(0.9305 0 0 1.0458 1129.72 708.65)">63</text><text font-family="'Liberation Serif', 'DejaVu Serif', serif" font-size="72" transform="matrix(0.9374 0 0 1.0169 1395.34 515.47)">95</text><text font-family="'Liberation Serif', 'DejaVu Serif', serif" font-size="72" transform="matrix(0.9249 0 0 0.9774 1583.44 383.30)">130</text><text font-family="'Liberation Serif', 'DejaVu Serif', serif" font-size="58" transform="matrix(1.0202 0 0 1.0115 1770.59 178.91)">148</text><text font-family="'Liberation Serif', 'DejaVu Serif', serif" font-size="58" transform="matrix(1.0197 0 0 0.8552 1727.64 177.27)">=</text><text font-family="'Liberation Serif', 'DejaVu Serif', serif" font-size="58" font-style="italic" transform="matrix(0.8455 0 0 1.0424 1569.15 179.50)">F</text><rect x="1566.7" y="118.9" width="33.4" height="7"/><text font-family="'Liberation Serif', 'DejaVu Serif', serif" font-size="34" transform="matrix(1.1295 0 0 1.0722 1599.99 205.90)">preload</text><text font-family="'Liberation Serif', 'DejaVu Serif', serif" font-size="70" transform="matrix(1.1010 0 0 1.0395 1205.88 1527.50)">Unloading</text><g transform="rotate(-90)"><text font-family="'Liberation Serif', 'DejaVu Serif', serif" font-size="70" transform="matrix(1.0860 0 0 1.0272 -387.40 2324.20)">Dwelling</text></g><g transform="translate(851.2,703.4) rotate(-45)"><text font-family="'Liberation Serif', 'DejaVu Serif', serif" font-size="70" transform="matrix(1.0824 0 0 1.0292 -5.90 0.00)">Loading</text></g></g>
<path d="M674.4,1163.4 L843.5,1289.7" stroke="#000" stroke-width="4" stroke-linecap="round" fill="none"/><path d="M875.6,1313.6 L835.6,1297 L848.3,1280 Z" fill="#000" stroke="#000" stroke-width="1.5" stroke-linejoin="round"/>
<path d="M860.4,1043.7 L982.6,1238.4" stroke="#000" stroke-width="4" stroke-linecap="round" fill="none"/><path d="M1003.9,1272.3 L972.6,1242.4 L990.5,1231.1 Z" fill="#000" stroke="#000" stroke-width="1.5" stroke-linejoin="round"/>
<path d="M1016.4,870.6 L1225.8,1076.1" stroke="#000" stroke-width="4" stroke-linecap="round" fill="none"/><path d="M1254.3,1104.1 L1216.9,1082.2 L1231.8,1067.1 Z" fill="#000" stroke="#000" stroke-width="1.5" stroke-linejoin="round"/>
<path d="M1215.8,705.1 L1487.3,839.2" stroke="#000" stroke-width="4" stroke-linecap="round" fill="none"/><path d="M1523.2,856.9 L1480.8,847.8 L1490.2,828.8 Z" fill="#000" stroke="#000" stroke-width="1.5" stroke-linejoin="round"/>
<path d="M1476.1,507 L1745.2,616.4" stroke="#000" stroke-width="4" stroke-linecap="round" fill="none"/><path d="M1782.3,631.5 L1739.4,625.5 L1747.4,605.9 Z" fill="#000" stroke="#000" stroke-width="1.5" stroke-linejoin="round"/>
<path d="M1712.8,383.2 L2006.5,460.9" stroke="#000" stroke-width="4" stroke-linecap="round" fill="none"/><path d="M2045.2,471.1 L2001.9,470.6 L2007.3,450.1 Z" fill="#000" stroke="#000" stroke-width="1.5" stroke-linejoin="round"/>
<path d="M1882.7,170.9 L2126.1,222" stroke="#000" stroke-width="4" stroke-linecap="round" fill="none"/><path d="M2165.2,230.2 L2121.9,231.9 L2126.3,211.2 Z" fill="#000" stroke="#000" stroke-width="1.5" stroke-linejoin="round"/>
<path d="M870.5,715 L1105.2,499.6" stroke="#000" stroke-width="4" stroke-linecap="round" fill="none"/><path d="M1134.7,472.6 L1110.9,508.8 L1096.6,493.2 Z" fill="#000" stroke="#000" stroke-width="1.5" stroke-linejoin="round"/>
<path d="M1657.4,1439.2 L1146.6,1439.2" stroke="#000" stroke-width="4" stroke-linecap="round" fill="none"/><path d="M1106.6,1439.2 L1148.6,1428.6 L1148.6,1449.8 Z" fill="#000" stroke="#000" stroke-width="1.5" stroke-linejoin="round"/>
<path d="M2233,60.5 L2233,373.9" stroke="#000" stroke-width="4" stroke-linecap="round" fill="none"/><path d="M2233,413.9 L2222.4,371.9 L2243.6,371.9 Z" fill="#000" stroke="#000" stroke-width="1.5" stroke-linejoin="round"/>
</svg>
</body></html>
